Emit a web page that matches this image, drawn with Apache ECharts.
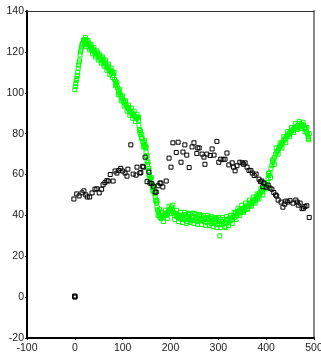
<!DOCTYPE html>
<html>
<head>
<meta charset="utf-8">
<script src="https://cdn.jsdelivr.net/npm/echarts@6/dist/echarts.min.js"></script>
<style>
  html, body { margin: 0; padding: 0; background: #fff; }
  #chart { width: 321px; height: 360px; }
</style>
</head>
<body>
<div id="chart"></div>
<script>
// axis ranges / ticks
const xTicks = [-100, 0, 100, 200, 300, 400, 500]
const yTicks = [-20, 0, 20, 40, 60, 80, 100, 120, 140]

// green series (x, y)
const greenPoints = [
  [0,101.5],[1,103],[2,104.5],[3,106],[4,107],[5,108.5],[6,110],[7,112],[8,113.5],[9,115],
  [10,116],[11,118.5],[12,120],[13,121],[14,122.5],[15,123.5],[16,124],[18,125.5],[19,126],[20,125],
  [21,126],[23,125.5],[24,124.5],[26,125],[27,123.5],[29,124],[30,122.5],[32,123],[34,121.5],[35,122],
  [37,120.5],[39,121],[41,119.5],[43,120],[45,118.5],[47,119.5],[49,117.5],[51,118],[53,116.5],[55,117],
  [57,115.5],[59,116],[61,114.5],[63,115],[65,113.5],[67,112.5],[69,113],[71,111.5],[73,111],[75,110.5],
  [77,109.5],[79,110],[81,108.5],[83,106.5],[85,105.5],[87,104],[89,102.5],[91,101],[93,100],[95,99],
  [97,98],[99,97],[101,96],[103,95.5],[105,94.5],[107,94],[109,93],[111,92.5],[113,92],[115,91],
  [117,90.5],[119,90],[121,89.5],[123,89],[125,88.5],[127,88],[129,87.5],[131,88],[133,86.5],[134,84],
  [135,82],[136,80.5],[138,79.5],[139,78],[141,77.5],[142,76],[144,75.5],[145,74],[147,74.5],[148,73],
  [149,71],[150,69],[151,66.5],[152,65],[153,63],[154,62],[155,60],[156,59],[158,58],[159,56.5],
  [161,55.5],[162,54],[164,53],[165,51.5],[167,50.5],[168,49],[170,47.5],[171,46],[172,44],[173,42.5],
  [175,41.5],[176,40],[178,39],[180,38.5],[182,39.5],[184,40],[186,39],[188,40.5],[190,41],[192,40],
  [194,41.5],[196,42],[198,42.5],[200,43],[202,44],[204,42.5],[206,41.5],[208,40],[210,41],[212,39.5],
  [214,40.5],[216,39],[218,40],[220,38.5],[222,39.5],[224,38],[226,40],[228,39],[230,40.5],[232,38.5],
  [234,39.5],[236,37],[238,39],[240,40.5],[242,38],[244,39],[246,37.5],[248,39.5],[250,41],[252,38],
  [254,39],[256,37],[258,38.5],[260,40],[262,38],[264,39.5],[266,37.5],[268,38.5],[270,37],[272,39],
  [274,38],[276,36.5],[278,38],[280,39],[282,37],[284,38.5],[286,36],[288,37.5],[290,38],[292,36.5],
  [294,37],[296,38.5],[298,35.5],[300,37],[302,36],[303,30],[304,38],[306,35.5],[308,37],[310,36],
  [312,38],[314,36.5],[316,34],[318,37.5],[320,38],[322,36.5],[324,38.5],[326,37.5],[328,39],[330,38],
  [332,40],[334,39],[336,41],[338,40],[340,42],[342,41],[344,42.5],[346,41.5],[348,43],[350,42],
  [352,43.5],[354,42.5],[356,44],[358,43],[360,44.5],[362,45],[364,44.5],[366,46],[368,45.5],[370,46.5],
  [372,47],[374,46.5],[376,48],[378,47.5],[380,49],[382,48.5],[384,50],[386,50.5],[388,51],[390,52],
  [392,51.5],[394,53],[396,53.5],[398,54],[400,55],[402,56],[404,58],[406,59.5],[408,61],[410,63],
  [412,64.5],[414,66],[416,67.5],[418,68.5],[420,70],[422,71],[424,71.5],[426,72.5],[428,73.5],[430,74],
  [432,75],[434,75.5],[436,76.5],[438,77],[440,77.5],[442,78.5],[444,79],[446,79.5],[448,80],[450,80.5],
  [452,81],[454,81.5],[456,82],[458,82.5],[460,82],[462,83],[464,83.5],[466,84],[468,83],[470,85],
  [472,84],[474,84.5],[476,83.5],[478,84],[480,83],[482,82.5],[484,81],[486,80],[488,78.5],[489,77]
]

// green points lying off the centre of the band
const greenSpread = [
  [22,127],[25,122.5],[28,125.5],[31,121],[34,123.5],[37,119],[40,122],[43,117.5],[46,120.5],[49,116],
  [52,118.5],[55,114.5],[58,117.5],[61,113],[64,116],[67,111],[70,114],[73,109],[76,112],[79,107.5],
  [82,110],[85,103.5],[88,105],[91,99],[94,101.5],[97,96],[100,98.5],[103,93.5],[106,96],[109,91],
  [112,94],[115,89],[118,92.5],[121,87.5],[124,91],[127,86],[130,89.5],[133,88],
  [137,81.5],[140,79.5],[143,73.5],[146,76.5],[149,73.5],[151,69],[153,66],[155,63],[157,57.5],[160,58.5],
  [163,52],[166,54],[169,47],[172,47],[174,40],[177,43],
  [181,41.5],[185,37],[189,42.5],[193,38.5],[197,44.5],[201,41],[205,45],[209,38],[213,42.5],[217,37],
  [221,41.5],[225,36.5],[229,41.5],[233,36],[237,41],[241,36.5],[245,41],[249,36],[253,40.5],[257,35.5],
  [261,40.5],[265,35.5],[269,40],[273,35],[277,40],[281,35],[285,39.5],[289,34.5],[293,39],[297,34],
  [301,39],[305,34],[309,39],[313,34.5],[317,39.5],[321,35],[325,40],[329,36],[333,41.5],[337,38],
  [341,43.5],[345,40],[349,45],[353,41.5],[357,46],[361,43],[365,47.5],[369,44.5],[373,49],[377,46],
  [381,50.5],[385,48],[389,53],[393,50],[397,56],[401,53],[405,60.5],[409,58.5],[413,67],[417,65],
  [421,73],[425,70],[429,75.5],[433,73],[437,78.5],[441,75.5],[445,81],[449,78.5],[453,83],[457,80.5],
  [461,85],[465,82],[469,86],[473,82.5],[477,85.5],[481,81],[485,83],[488,77.5],[490,80]
]

// black series (x, y)
const blackPoints = [
  [0,0],[0.6,0.4],[-0.5,0.5],
  [-2,48],[4,50.5],[9,49.5],[15,51],[19,52],[23,50],[26,49],[31,49],[36,51],[42,52.8],
  [46,53],[51,51],[56,52.8],[59,55],[63,56],[67,57],[70,56.8],[74,60],[80,56.8],[84,61.7],
  [88,60.7],[92,62],[96,63],[100,61.7],[105,60.7],[109,59.2],[111,62.6],[117,74.5],[122,60.2],[128,59.7],
  [130,63.6],[136,60.7],[138,61],[142,64],[143,63.6],[147,68.5],[151,56.5],[155,61.2],[157,55.8],[161,55.5],
  [164,54.3],[168,51.4],[170,51.4],[174,54.5],[178,55.8],[180,55.8],[184,53.9],[191,56.8],[197,68],[201,63.6],
  [205,75.5],[212,70.8],[216,75.8],[222,66],[226,71],[230,74.5],[234,69.5],[239,63.4],[245,73.5],[249,75.5],
  [255,70.3],[257,73],[260,73],[266,70],[270,68.5],[272,65],[276,70],[283,69.3],[287,72.5],[291,69.5],
  [297,76.2],[301,66],[305,67.5],[310,67.3],[314,67.5],[318,70.5],[322,64.7],[329,65.7],[332,63.6],[335,61.8],
  [339,64.3],[345,66],[350,65.7],[353,65],[356,65.7],[360,63.6],[364,62],[368,62],[371,60.7],[375,59.5],
  [379,60.2],[385,57.7],[388,56.5],[391,56.8],[393,54],[395,55.8],[400,53.8],[404,54.8],[408,53.4],[412,52.8],
  [416,51.2],[420,50],[422,49.5],[425,47.5],[431,46.5],[435,44],[439,45.5],[441,47],[445,46.5],[450,47.2],
  [456,46],[462,47.5],[465,46.5],[467,45],[471,46],[475,43.3],[478,43.5],[481,44.3],[485,44.7],[490,39]
]

const chart = echarts.init(document.getElementById('chart'), null, { renderer: 'canvas' })

const labelFont = { color: '#222', fontFamily: 'Liberation Sans, Arial, sans-serif', fontSize: 10.5 }

const option = {
  animation: false,
  backgroundColor: '#fff',
  grid: { left: 27, right: 7, top: 11, bottom: 22, outerBoundsMode: 'none', containLabel: false },
  xAxis: [
    {
      type: 'value',
      position: 'bottom',
      min: xTicks[0],
      max: xTicks[xTicks.length - 1],
      interval: 100,
      splitLine: { show: false },
      axisLine: { onZero: false, lineStyle: { color: '#000', width: 2 } },
      axisTick: { length: 2, lineStyle: { color: '#000' } },
      axisLabel: Object.assign({ margin: 5, showMaxLabel: true }, labelFont)
    },
    {
      type: 'value',
      position: 'top',
      min: xTicks[0],
      max: xTicks[xTicks.length - 1],
      splitLine: { show: false },
      axisLine: { onZero: false, lineStyle: { color: '#333', width: 1 } },
      axisTick: { show: false },
      axisLabel: { show: false }
    }
  ],
  yAxis: [
    {
      type: 'value',
      position: 'left',
      min: yTicks[0],
      max: yTicks[yTicks.length - 1],
      interval: 20,
      splitLine: { show: false },
      axisLine: { onZero: false, lineStyle: { color: '#000', width: 2 } },
      axisTick: { length: 2, lineStyle: { color: '#000' } },
      axisLabel: Object.assign({ margin: 3 }, labelFont)
    },
    {
      type: 'value',
      position: 'right',
      min: yTicks[0],
      max: yTicks[yTicks.length - 1],
      splitLine: { show: false },
      axisLine: { onZero: false, lineStyle: { color: '#888', width: 2 } },
      axisTick: { show: false },
      axisLabel: { show: false }
    }
  ],
  series: [
    {
      name: 'green',
      type: 'scatter',
      symbol: 'rect',
      symbolSize: 4,
      data: greenPoints.concat(greenSpread),
      itemStyle: { color: 'rgba(0,0,0,0)', borderColor: '#00ff00', borderWidth: 1, opacity: 1 }
    },
    {
      name: 'black',
      type: 'scatter',
      symbol: 'rect',
      symbolSize: 4,
      data: blackPoints,
      itemStyle: { color: 'rgba(0,0,0,0)', borderColor: '#000', borderWidth: 1, opacity: 1 }
    }
  ]
}

chart.setOption(option)
</script>
</body>
</html>
